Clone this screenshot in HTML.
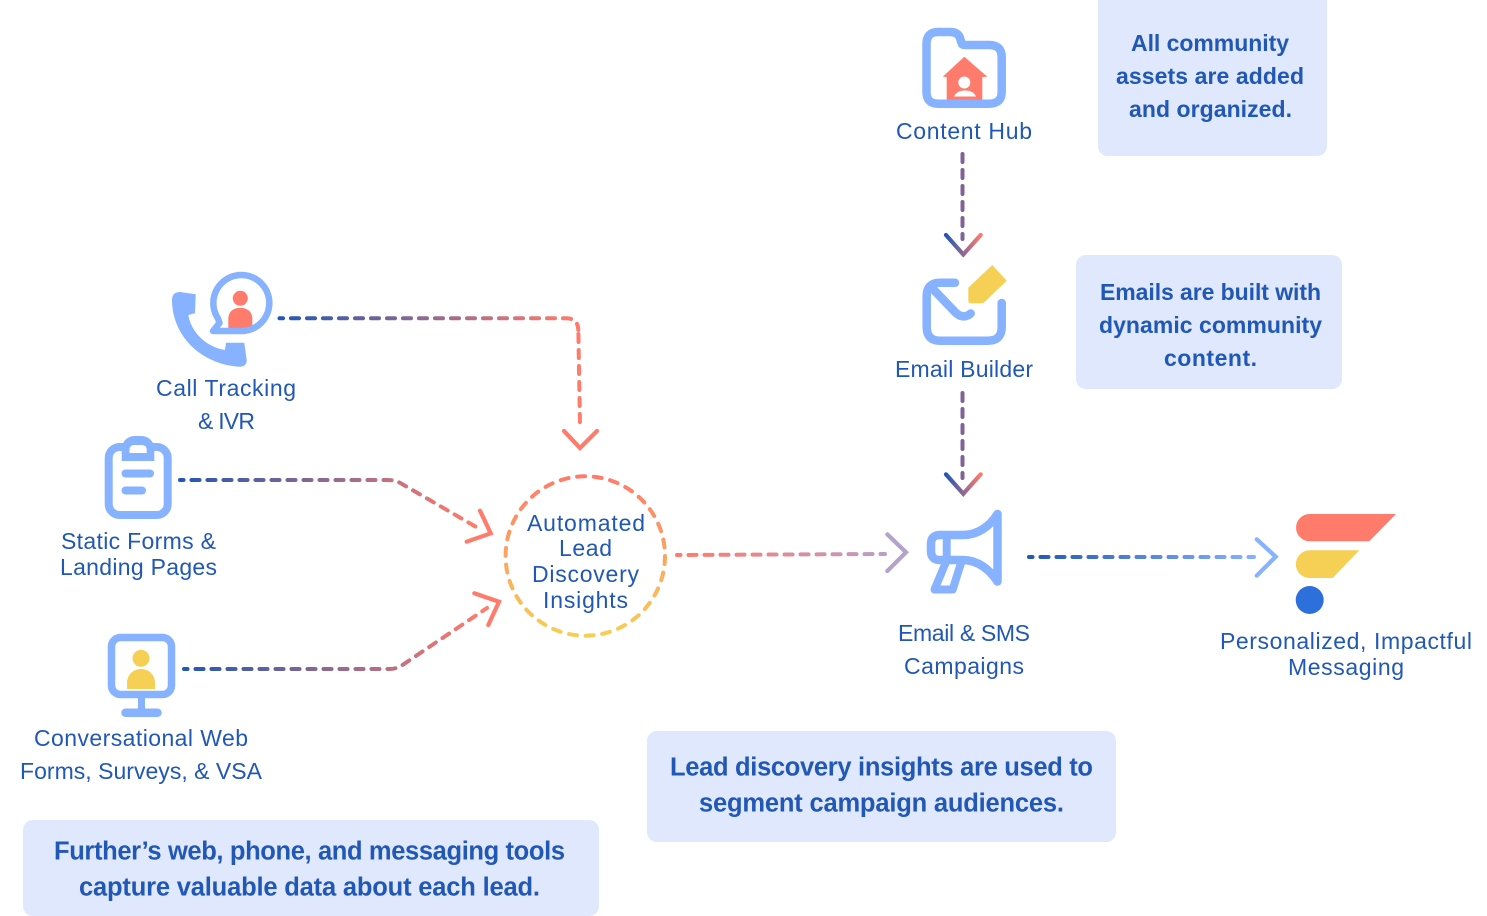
<!DOCTYPE html>
<html><head><meta charset="utf-8"><style>
html,body{margin:0;padding:0;background:#fff;width:1487px;height:916px;overflow:hidden}
svg{display:block}
text{font-family:"Liberation Sans",sans-serif;fill:#2157B5;text-anchor:middle;font-size:23px}
.b{font-weight:700;font-size:23px}
.c{font-weight:700;font-size:25.5px}
.i{fill:none;stroke:#86B2FF;stroke-linecap:round;stroke-linejoin:round}
.d{fill:none;stroke-width:4;stroke-linecap:round;stroke-linejoin:round;stroke-dasharray:8 8;stroke-dashoffset:4.5}
.a{fill:none;stroke-width:4.2;stroke-linecap:round;stroke-linejoin:miter}
</style></head><body>
<svg width="1487" height="916" viewBox="0 0 1487 916" xmlns="http://www.w3.org/2000/svg">
<defs>
<linearGradient id="g1" gradientUnits="userSpaceOnUse" x1="279" y1="318" x2="570" y2="318"><stop offset="0" stop-color="#2157B5"/><stop offset="1" stop-color="#FF7B6B"/></linearGradient>
<linearGradient id="g2" gradientUnits="userSpaceOnUse" x1="180" y1="480" x2="470" y2="480"><stop offset="0" stop-color="#2157B5"/><stop offset="1" stop-color="#FF7B6B"/></linearGradient>
<linearGradient id="g3" gradientUnits="userSpaceOnUse" x1="184" y1="669" x2="480" y2="669"><stop offset="0" stop-color="#2157B5"/><stop offset="1" stop-color="#FF7B6B"/></linearGradient>
<linearGradient id="g4" gradientUnits="userSpaceOnUse" x1="676" y1="555" x2="905" y2="555"><stop offset="0" stop-color="#FF7B6B"/><stop offset="1" stop-color="#B4A2CC"/></linearGradient>
<linearGradient id="g5" gradientUnits="userSpaceOnUse" x1="1028" y1="557" x2="1255" y2="557"><stop offset="0" stop-color="#2157B5"/><stop offset="1" stop-color="#86B2FF"/></linearGradient>
<linearGradient id="g6" gradientUnits="userSpaceOnUse" x1="946" y1="0" x2="981" y2="0"><stop offset="0" stop-color="#2157B5"/><stop offset="1" stop-color="#FF7B6B"/></linearGradient>
<linearGradient id="g7" gradientUnits="userSpaceOnUse" x1="0" y1="476" x2="0" y2="636"><stop offset="0" stop-color="#FF7B6B"/><stop offset="1" stop-color="#F6CF55"/></linearGradient>
</defs>

<!-- boxes -->
<rect x="1098" y="-10" width="229" height="166" rx="10" fill="#DFE8FC"/>
<rect x="1076" y="255" width="266" height="134" rx="10" fill="#DFE8FC"/>
<rect x="647" y="731" width="469" height="111" rx="10" fill="#DFE8FC"/>
<rect x="23" y="820" width="576" height="96" rx="10" fill="#DFE8FC"/>

<!-- box text -->
<text class="b" x="1210" y="51" textLength="158">All community</text>
<text class="b" x="1210" y="84" textLength="188">assets are added</text>
<text class="b" x="1210.5" y="117" textLength="163">and organized.</text>
<text class="b" x="1210.5" y="300" textLength="221">Emails are built with</text>
<text class="b" x="1210.5" y="333" textLength="223">dynamic community</text>
<text class="b" x="1210.5" y="366" textLength="93">content.</text>
<text class="c" x="881.5" y="775.5" textLength="423">Lead discovery insights are used to</text>
<text class="c" x="881.5" y="811.5" textLength="365">segment campaign audiences.</text>
<text class="c" x="309.5" y="859.5" textLength="511">Further’s web, phone, and messaging tools</text>
<text class="c" x="309.5" y="895.5" textLength="461">capture valuable data about each lead.</text>

<!-- labels -->
<text x="964" y="139" textLength="136">Content Hub</text>
<text x="964" y="377" textLength="138">Email Builder</text>
<text x="226" y="396" textLength="140">Call Tracking</text>
<text x="226.5" y="429" textLength="57">&amp; IVR</text>
<text x="138.5" y="549" textLength="155">Static Forms &amp;</text>
<text x="138.5" y="575" textLength="157">Landing Pages</text>
<text x="141" y="746" textLength="214">Conversational Web</text>
<text x="141" y="779" textLength="242">Forms, Surveys, &amp; VSA</text>
<text x="586" y="531" textLength="118">Automated</text>
<text x="585.5" y="556" textLength="53">Lead</text>
<text x="585.5" y="582" textLength="107">Discovery</text>
<text x="585.5" y="608" textLength="85">Insights</text>
<text x="964" y="641" textLength="132">Email &amp; SMS</text>
<text x="964" y="674" textLength="120">Campaigns</text>
<text x="1346" y="649" textLength="252">Personalized, Impactful</text>
<text x="1346" y="675" textLength="116">Messaging</text>

<!-- call icon -->
<path d="M172 300Q172 292 180 292L195.7 294.3L195 313.3L188.3 315C191 332 206 347 225 350L226 342.7H244.3L246.7 360Q246.7 367 239 366.7C200 364 172 335 172 300Z" fill="#86B2FF"/>
<path d="M228.3 328V319C228.3 312 233 307.7 240.3 307.7S252.3 312 252.3 319V328Z" fill="#FF7B6B"/>
<circle cx="240.3" cy="298.3" r="7.5" fill="#FF7B6B"/>
<path class="i" stroke-width="6.5" d="M213 331H241.5A28 28 0 1 0 218 318.5L219.5 323Z"/>

<!-- clipboard -->
<rect class="i" stroke-width="8" x="108.7" y="447" width="59" height="68" rx="11"/>
<path d="M121.7 461V449C121.7 441 128 436 135 436H141C148 436 154.3 441 154.3 449V461Z" fill="#86B2FF"/>
<path d="M129.5 453V450C129.5 446 132 445 135 445H141C144 445 146.7 446 146.7 450V453Z" fill="#fff"/>
<path class="i" stroke-width="8" d="M125.5 473.5H150M125.5 490.5H142"/>

<!-- monitor -->
<path d="M127 689V683C127 675 133 669 141 669S155 675 155 683V689Z" fill="#F6CF55"/>
<circle cx="141" cy="658.3" r="8.5" fill="#F6CF55"/>
<rect class="i" stroke-width="7.5" x="111.5" y="637.5" width="60" height="57" rx="9"/>
<path class="i" stroke-width="7" d="M141.5 698V711"/>
<path class="i" stroke-width="8.5" d="M125.5 712.7H157.5"/>

<!-- folder -->
<path d="M964.3 56.7L987.3 76.7L982.3 77V100H946.7V77L942.7 76.7Z" fill="#FF7B6B"/>
<path class="i" stroke-width="8.5" d="M926.5 44Q926.5 32 938 32H950Q958 32 960 38L961.5 43Q962 45 965 45H989Q1001.7 45 1001.7 57V92Q1001.7 103.7 989 103.7H938Q926.5 103.7 926.5 92Z"/>
<circle cx="964.3" cy="82.5" r="6" fill="#fff"/>
<path d="M954 96.5C956 92 960 90.5 965 90.5S974 92 976 96.5Z" fill="#fff"/>

<!-- email -->
<path class="i" stroke-width="8.5" d="M955 282.7H940Q926.7 282.7 926.7 296V327Q926.7 340.7 940 340.7H988Q1001.7 340.7 1001.7 327V303"/>
<path class="i" stroke-width="8.5" d="M932 288L955 312Q963 320 970.7 313.5"/>
<path d="M992.3 265L1006.7 280.7L983.3 303.3H971Q968.3 303.3 968.3 300.5V287.7Z" fill="#F6CF55"/>

<!-- megaphone -->
<path class="i" stroke-width="8.5" d="M997.5 514V581.5C990 570 978 560 963 560H940Q931 560 931 551V544Q931 535 940 535H963C978 535 990 526 997.5 514Z"/>
<path class="i" stroke-width="8" d="M946.7 537V558"/>
<path class="i" stroke-width="8" d="M946 562L934.5 589.5H952.7L961 563"/>

<!-- logo -->
<path d="M1309.7 514H1396L1369.3 541.3H1309.7A13.65 13.65 0 0 1 1309.7 514Z" fill="#FF7B6B"/>
<path d="M1309.7 550.3H1359.3L1332.7 578H1309.7A13.85 13.85 0 0 1 1309.7 550.3Z" fill="#F6CF55"/>
<circle cx="1309.7" cy="600" r="14" fill="#2D6FDB"/>

<!-- circle -->
<circle cx="585.3" cy="556" r="79.7" fill="none" stroke="url(#g7)" stroke-width="4" stroke-linecap="round" stroke-dasharray="8 8.69"/>

<!-- connectors -->
<path class="d" stroke="url(#g1)" d="M279.5 318.3H566Q578 318.3 578.3 330"/>
<path class="d" stroke="#FF7B6B" style="stroke-dashoffset:0" d="M578.4 334L580 426"/>
<path class="a" stroke="#FF7B6B" d="M564 431L580 448L597 431"/>

<path class="d" stroke="url(#g2)" d="M180 480H388Q396 480 402 484L478 528"/>
<path class="a" stroke="#FF7B6B" d="M480 510.7L490.7 533.3L466.7 541.7"/>

<path class="d" stroke="url(#g3)" d="M184 669H390Q397 669 404 664L487 608"/>
<path class="a" stroke="#FF7B6B" d="M474.3 593.3L499 601.7L488.3 625"/>

<path class="d" stroke="url(#g4)" d="M677 555L885 554"/>
<path class="a" stroke="#B4A2CC" d="M887.3 534.3L906 552.3L887.3 571"/>

<path class="d" stroke="url(#g5)" d="M1029 557H1254"/>
<path class="a" stroke="#86B2FF" d="M1256.7 539.3L1275.7 556.7L1256.7 575.7"/>

<path class="d" stroke="#7F6397" style="stroke-dashoffset:14" d="M962.5 152V239"/>
<path class="a" stroke="url(#g6)" d="M946 235L963.3 254.5L980.7 235"/>

<path class="d" stroke="#7F6397" style="stroke-dashoffset:13" d="M962.5 390V478"/>
<path class="a" stroke="url(#g6)" d="M946 474.3L963.3 493.8L980.7 474.3"/>
</svg>
</body></html>
